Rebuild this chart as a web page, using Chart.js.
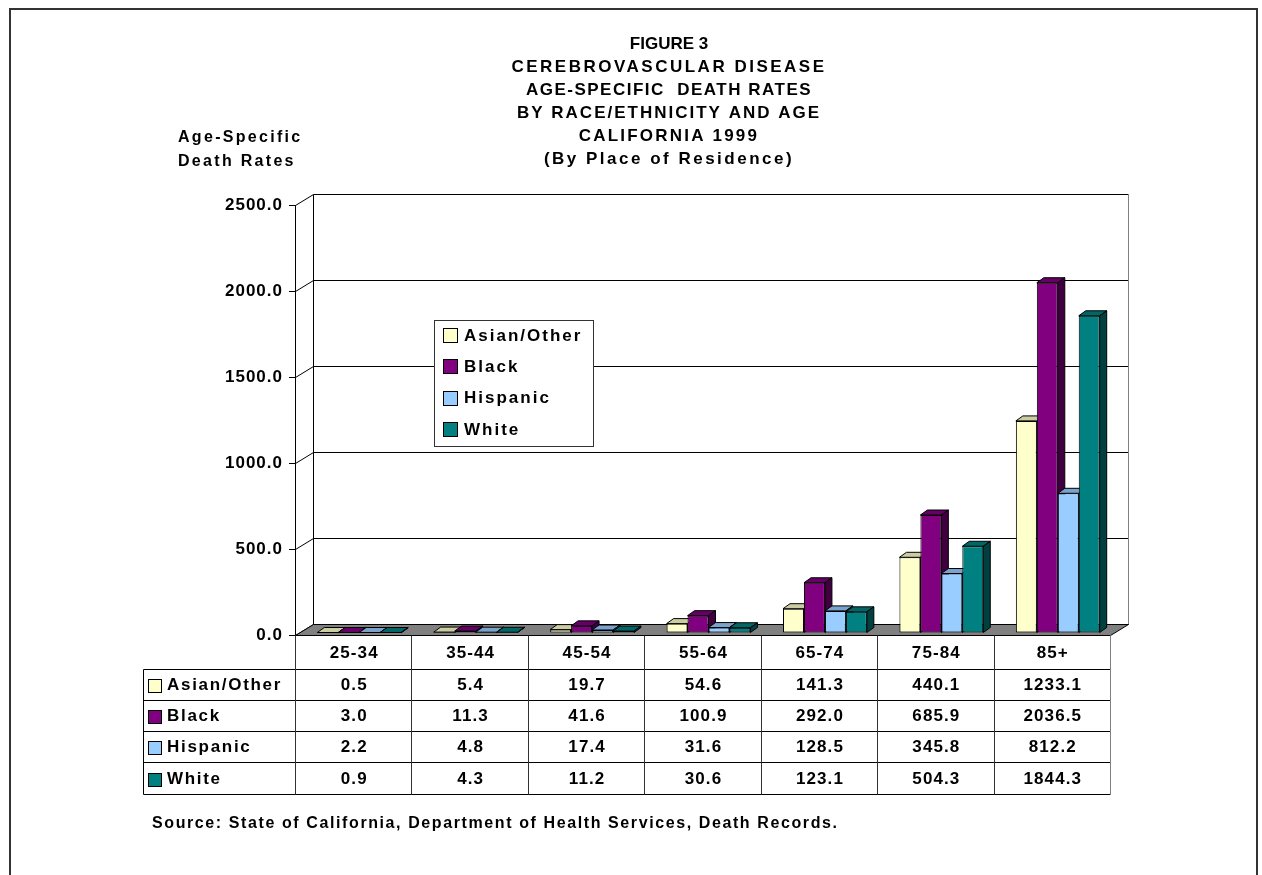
<!DOCTYPE html>
<html>
<head>
<meta charset="utf-8">
<title>Figure 3 - Cerebrovascular Disease</title>
<script src="https://cdn.jsdelivr.net/npm/chart.js@4.4.1/dist/chart.umd.min.js"></script>
<style>
  html, body { margin: 0; padding: 0; background: #fff; }
  canvas { display: block; }
</style>
</head>
<body>
<canvas id="myChart" width="1262" height="875"></canvas>
<script>
// Data
var ageGroups = ['25-34', '35-44', '45-54', '55-64', '65-74', '75-84', '85+'];
var seriesNames = ['Asian/Other', 'Black', 'Hispanic', 'White'];
var asianOther = [0.5, 5.4, 19.7, 54.6, 141.3, 440.1, 1233.1];
var black = [3.0, 11.3, 41.6, 100.9, 292.0, 685.9, 2036.5];
var hispanic = [2.2, 4.8, 17.4, 31.6, 128.5, 345.8, 812.2];
var white = [0.9, 4.3, 11.2, 30.6, 123.1, 504.3, 1844.3];
var seriesColors = ['#FFFFCC', '#800080', '#99CCFF', '#008080'];
var yMin = 0, yMax = 2500, yStep = 500;

var titleLines = [
    'FIGURE 3',
    'CEREBROVASCULAR DISEASE',
    'AGE-SPECIFIC  DEATH RATES',
    'BY RACE/ETHNICITY AND AGE',
    'CALIFORNIA 1999',
    '(By Place of Residence)'
];
var axisTitleLines = ['Age-Specific', 'Death Rates'];
var sourceText = 'Source: State of California, Department of Health Services, Death Records.';

var FONT = '"Liberation Sans", Arial, Helvetica, sans-serif';
var titleSpacing = [0, 2.5, 1.5, 2.0, 2.2, 2.5];

// darken a hex colour by factor f
function shade(hex, f) {
    var n = parseInt(hex.slice(1), 16);
    var r = Math.round(((n >> 16) & 255) * f);
    var g = Math.round(((n >> 8) & 255) * f);
    var b = Math.round((n & 255) * f);
    return 'rgb(' + r + ',' + g + ',' + b + ')';
}

function drawText(ctx, s, x, y, size, spacing, align) {
    ctx.font = 'bold ' + size + 'px ' + FONT;
    ctx.letterSpacing = spacing + 'px';
    ctx.textAlign = align || 'left';
    ctx.textBaseline = 'middle';
    ctx.fillStyle = '#000';
    ctx.fillText(s, x, y);
}

function line(ctx, x1, y1, x2, y2, color) {
    ctx.beginPath();
    ctx.moveTo(x1, y1);
    ctx.lineTo(x2, y2);
    ctx.strokeStyle = color || '#000';
    ctx.stroke();
}

var WALL = { x: 18, y: 11 };   // depth of the back wall
var BAR = { x: 7, y: 5 };      // depth of a bar

var scenePlugin = {
    id: 'scene',
    beforeDraw: function (chart) {
        var ctx = chart.ctx, area = chart.chartArea, ys = chart.scales.y;
        ctx.save();
        ctx.fillStyle = '#fff';
        ctx.fillRect(0, 0, chart.width, chart.height);

        // outer frame
        ctx.lineWidth = 2;
        ctx.strokeStyle = '#333';
        ctx.strokeRect(10, 9, 1247, 900);

        // title
        titleLines.forEach(function (s, i) {
            drawText(ctx, s, 669, 44 + i * 23, 17, titleSpacing[i], 'center');
        });
        axisTitleLines.forEach(function (s, i) {
            drawText(ctx, s, 178, 138 + i * 24, 16, 2.3, 'left');
        });

        // walls, gridlines and floor
        ctx.lineWidth = 1;
        var top = Math.round(ys.getPixelForValue(yMax)) + 0.5;
        var bot = Math.round(ys.getPixelForValue(yMin)) + 0.5;
        var L = area.left + 0.5, R = area.right + 0.5;
        ys.ticks.forEach(function (t) {
            var py = Math.round(ys.getPixelForValue(t.value)) + 0.5;
            line(ctx, L + WALL.x, py - WALL.y, R + WALL.x, py - WALL.y, '#000');
            line(ctx, L, py, L + WALL.x, py - WALL.y, '#000');
        });
        line(ctx, L + WALL.x, top - WALL.y, L + WALL.x, bot - WALL.y, '#000');
        line(ctx, R + WALL.x, top - WALL.y, R + WALL.x, bot - WALL.y, '#808080');

        ctx.beginPath();
        ctx.moveTo(L, bot);
        ctx.lineTo(L + WALL.x, bot - WALL.y);
        ctx.lineTo(R + WALL.x, bot - WALL.y);
        ctx.lineTo(R, bot);
        ctx.closePath();
        ctx.fillStyle = '#808080';
        ctx.fill();
        ctx.strokeStyle = '#000';
        ctx.stroke();
        ctx.restore();
        ctx.letterSpacing = '1px';   // used by the tick labels
    },
    beforeDatasetsDraw: function (chart) {
        var ctx = chart.ctx;
        ctx.save();
        ctx.translate(6, -2);
        ctx.lineWidth = 1;
        ctx.strokeStyle = '#000';
        for (var j = 0; j < ageGroups.length; j++) {
            for (var i = 0; i < chart.data.datasets.length; i++) {
                var el = chart.getDatasetMeta(i).data[j];
                var col = chart.data.datasets[i].backgroundColor;
                el.draw(ctx);
                var p = el.getProps(['x', 'y', 'base', 'width'], true);
                var l = p.x - p.width / 2, r = p.x + p.width / 2;
                var t = Math.min(p.y, p.base), b = Math.max(p.y, p.base);
                // top face
                ctx.beginPath();
                ctx.moveTo(l, t);
                ctx.lineTo(l + BAR.x, t - BAR.y);
                ctx.lineTo(r + BAR.x, t - BAR.y);
                ctx.lineTo(r, t);
                ctx.closePath();
                ctx.fillStyle = shade(col, 0.8);
                ctx.fill();
                ctx.stroke();
                // right face
                ctx.beginPath();
                ctx.moveTo(r, t);
                ctx.lineTo(r + BAR.x, t - BAR.y);
                ctx.lineTo(r + BAR.x, b - BAR.y);
                ctx.lineTo(r, b);
                ctx.closePath();
                ctx.fillStyle = shade(col, 0.5);
                ctx.fill();
                ctx.stroke();
            }
        }
        ctx.restore();
        return false;
    },
    afterDraw: function (chart) {
        var ctx = chart.ctx, area = chart.chartArea, xs = chart.scales.x;
        var sets = chart.data.datasets;
        ctx.save();
        ctx.lineWidth = 1;

        // legend box
        ctx.fillStyle = '#fff';
        ctx.fillRect(434.5, 320.5, 159, 126);
        ctx.strokeStyle = '#333';
        ctx.strokeRect(434.5, 320.5, 159, 126);
        sets.forEach(function (ds, i) {
            var cy = 335 + i * 31.3;
            ctx.fillStyle = ds.backgroundColor;
            ctx.fillRect(443.5, Math.round(cy - 7) + 0.5, 14, 14);
            ctx.strokeStyle = '#000';
            ctx.strokeRect(443.5, Math.round(cy - 7) + 0.5, 14, 14);
            drawText(ctx, ds.label, 464, cy + 1, 17, 2, 'left');
        });

        // data table
        var n = ageGroups.length;
        var colW = (area.right - area.left) / n;
        var t0 = Math.round(area.bottom) + 0.5;
        var headH = 33, rowH = 31.3, tabLeft = 143.5;
        var tabBottom = Math.round(t0 + headH + sets.length * rowH) + 0.5;
        for (var k = 0; k <= sets.length; k++) {
            var hy = Math.round(t0 + headH + k * rowH) + 0.5;
            line(ctx, tabLeft, hy, area.right + 0.5, hy, '#000');
        }
        for (var c = 0; c <= n; c++) {
            var vx = Math.round(area.left + c * colW) + 0.5;
            line(ctx, vx, t0, vx, tabBottom, c === n ? '#808080' : '#333');
        }
        line(ctx, tabLeft, Math.round(t0 + headH) + 0.5, tabLeft, tabBottom, '#000');

        ageGroups.forEach(function (g, j) {
            drawText(ctx, g, xs.getPixelForValue(j) + 1, t0 + headH / 2 + 1, 17, 1.1, 'center');
        });
        sets.forEach(function (ds, i) {
            var cy = t0 + headH + (i + 0.5) * rowH + 1;
            ctx.fillStyle = ds.backgroundColor;
            ctx.fillRect(148.5, Math.round(cy - 6.5) + 0.5, 13, 13);
            ctx.strokeStyle = '#000';
            ctx.strokeRect(148.5, Math.round(cy - 6.5) + 0.5, 13, 13);
            drawText(ctx, ds.label, 167, cy, 17, 1.7, 'left');
            ds.data.forEach(function (v, j) {
                drawText(ctx, v.toFixed(1), xs.getPixelForValue(j) + 1, cy, 17, 1.1, 'center');
            });
        });

        // source note
        drawText(ctx, sourceText, 152, 824, 16, 1.6, 'left');
        ctx.restore();
    }
};

var ctx = document.getElementById('myChart').getContext('2d');

var seriesData = [asianOther, black, hispanic, white];
var datasets = seriesNames.map(function (name, i) {
    return {
        label: name,
        data: seriesData[i],
        backgroundColor: seriesColors[i],
        borderColor: '#000',
        borderWidth: 1,
        borderSkipped: false,
        barPercentage: 1,
        categoryPercentage: 0.72
    };
});

new Chart(ctx, {
    type: 'bar',
    data: {
        labels: ageGroups,
        datasets: datasets
    },
    options: {
        responsive: false,
        animation: false,
        devicePixelRatio: 1,
        layout: {
            padding: { left: 150, top: 205, right: 152, bottom: 240 }
        },
        plugins: {
            legend: { display: false },
            title: { display: false },
            tooltip: { enabled: false }
        },
        scales: {
            x: {
                display: false,
                grid: { display: false }
            },
            y: {
                min: yMin,
                max: yMax,
                afterFit: function (scale) { scale.width = 145; },
                ticks: {
                    stepSize: yStep,
                    padding: 6,
                    color: '#000',
                    font: { family: FONT, size: 17, weight: 'bold' },
                    callback: function (v) { return v.toFixed(1); }
                },
                grid: {
                    drawOnChartArea: false,
                    drawTicks: true,
                    tickLength: 6,
                    color: '#000'
                },
                border: { display: true, color: '#000', width: 1 }
            }
        }
    },
    plugins: [scenePlugin]
});
</script>
</body>
</html>
